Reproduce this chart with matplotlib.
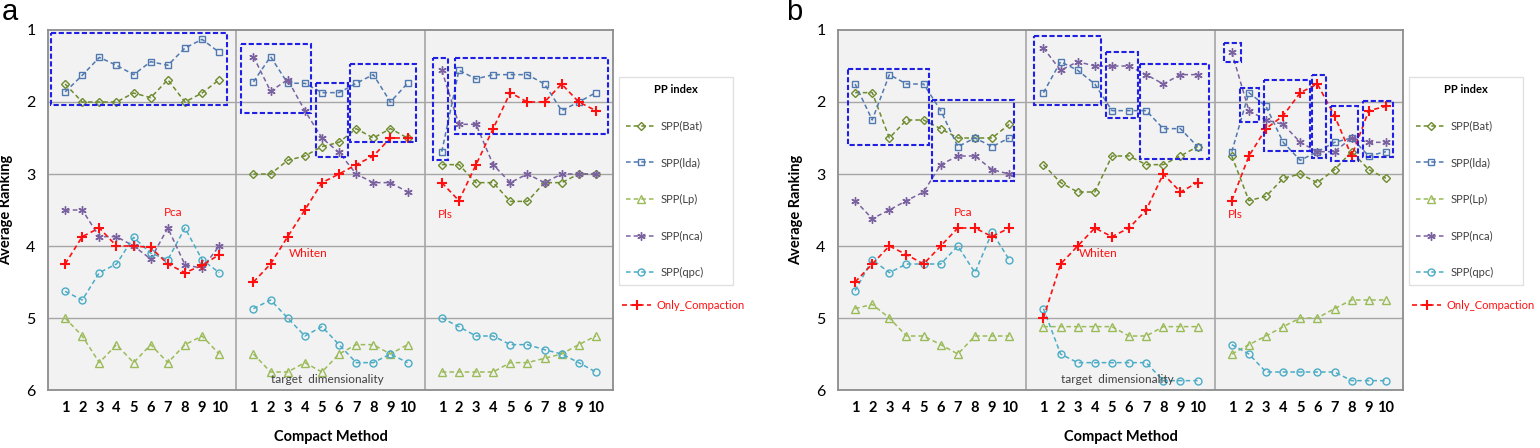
import matplotlib
matplotlib.use('Agg')
import matplotlib.pyplot as plt
from matplotlib.patches import Rectangle

# x 轴：三组方法，每组 1..10
groups = 3
dims = list(range(1, 11))
tick_labels = [str(d) for d in dims] * groups

series_names = ['SPP(Bat)', 'SPP(lda)', 'SPP(Lp)', 'SPP(nca)', 'SPP(qpc)']

# panel a
a_bat = [1.75, 2.0, 2.0, 2.0, 1.875, 1.94, 1.69, 2.0, 1.875, 1.69,
         3.0, 3.0, 2.81, 2.75, 2.62, 2.56, 2.37, 2.5, 2.37, 2.5,
         2.87, 2.87, 3.12, 3.12, 3.38, 3.38, 3.12, 3.12, 3.0, 3.0]
a_ida = [1.86, 1.63, 1.38, 1.49, 1.62, 1.44, 1.49, 1.25, 1.13, 1.31,
         1.72, 1.37, 1.74, 1.74, 1.87, 1.87, 1.74, 1.62, 2.0, 1.74,
         2.69, 1.56, 1.68, 1.62, 1.62, 1.62, 1.75, 2.12, 2.0, 1.87]
a_lp = [5.0, 5.25, 5.62, 5.37, 5.62, 5.37, 5.62, 5.37, 5.25, 5.5,
        5.5, 5.75, 5.75, 5.62, 5.75, 5.5, 5.37, 5.37, 5.5, 5.37,
        5.75, 5.75, 5.75, 5.75, 5.62, 5.62, 5.56, 5.5, 5.37, 5.25]
a_nca = [3.5, 3.5, 3.87, 3.87, 4.0, 4.18, 3.75, 4.26, 4.31, 4.0,
         1.37, 1.85, 1.69, 2.12, 2.5, 2.7, 3.0, 3.12, 3.12, 3.25,
         1.56, 2.31, 2.31, 2.87, 3.12, 3.0, 3.12, 3.0, 3.0, 3.0]
a_qpc = [4.63, 4.75, 4.37, 4.25, 3.88, 4.1, 4.19, 3.75, 4.19, 4.37,
         4.87, 4.75, 5.0, 5.25, 5.12, 5.37, 5.62, 5.62, 5.5, 5.62,
         5.0, 5.12, 5.25, 5.25, 5.37, 5.37, 5.44, 5.5, 5.62, 5.75]
a_only = [4.25, 3.87, 3.75, 4.0, 4.0, 4.02, 4.25, 4.37, 4.27, 4.12,
          4.5, 4.25, 3.87, 3.5, 3.12, 3.0, 2.87, 2.75, 2.5, 2.5,
          3.12, 3.37, 2.87, 2.37, 1.87, 2.0, 2.0, 1.75, 2.0, 2.12]

# panel b
b_bat = [1.87, 1.87, 2.5, 2.25, 2.25, 2.37, 2.5, 2.5, 2.5, 2.31,
         2.87, 3.12, 3.25, 3.25, 2.75, 2.75, 2.87, 2.87, 2.75, 2.62,
         2.75, 3.37, 3.31, 3.06, 3.0, 3.12, 2.94, 2.69, 2.94, 3.06]
b_ida = [1.75, 2.25, 1.62, 1.75, 1.75, 2.12, 2.62, 2.5, 2.62, 2.5,
         1.87, 1.44, 1.56, 1.75, 2.12, 2.12, 2.12, 2.37, 2.37, 2.62,
         2.69, 1.87, 2.06, 2.56, 2.81, 2.69, 2.56, 2.5, 2.75, 2.69]
b_lp = [4.87, 4.81, 5.0, 5.25, 5.25, 5.37, 5.5, 5.25, 5.25, 5.25,
        5.12, 5.12, 5.12, 5.12, 5.12, 5.25, 5.25, 5.12, 5.12, 5.12,
        5.5, 5.37, 5.25, 5.12, 5.0, 5.0, 4.87, 4.75, 4.75, 4.75]
b_nca = [3.37, 3.62, 3.5, 3.37, 3.25, 2.87, 2.75, 2.75, 2.94, 3.0,
         1.25, 1.56, 1.44, 1.5, 1.5, 1.5, 1.62, 1.75, 1.62, 1.62,
         1.31, 2.12, 2.25, 2.31, 2.56, 2.69, 2.69, 2.5, 2.56, 2.56]
b_qpc = [4.62, 4.19, 4.37, 4.25, 4.25, 4.25, 4.0, 4.37, 3.81, 4.19,
         4.87, 5.5, 5.62, 5.62, 5.62, 5.62, 5.62, 5.87, 5.87, 5.87,
         5.37, 5.5, 5.75, 5.75, 5.75, 5.75, 5.75, 5.87, 5.87, 5.87]
b_only = [4.5, 4.25, 4.0, 4.12, 4.25, 4.0, 3.75, 3.75, 3.87, 3.75,
          5.0, 4.25, 4.0, 3.75, 3.87, 3.75, 3.5, 3.0, 3.25, 3.12,
          3.37, 2.75, 2.37, 2.19, 1.87, 1.75, 2.19, 2.75, 2.12, 2.06]

# 组名注释 (Pca / Whiten / Pls)
method_names = ['Pca', 'Whiten', 'Pls']

# 蓝色虚线框 (x0, x1, y0, y1)
a_boxes = [(0.2, 10.45, 1.04, 2.04), (11.27, 15.36, 1.19, 2.15), (15.65, 17.52, 1.74, 2.76),
           (17.64, 21.5, 1.47, 2.56), (22.5, 23.36, 1.39, 2.81), (23.8, 32.7, 1.39, 2.44)]
b_boxes = [(0.58, 5.3, 1.54, 2.6), (5.5, 10.3, 1.97, 3.1), (11.45, 15.36, 1.08, 2.04),
           (15.65, 17.52, 1.3, 2.22), (17.64, 21.67, 1.47, 2.79), (22.55, 23.54, 1.18, 1.44),
           (23.48, 24.6, 1.8, 2.28), (24.9, 27.57, 1.69, 2.68), (27.7, 28.5, 1.62, 2.78),
           (28.8, 30.4, 2.05, 2.82), (30.67, 32.4, 1.99, 2.77)]

colors = ['#6E8B2E', '#4F79B0', '#9BBB59', '#7A62A0', '#4BACC6']
markers = ['D', 's', '^', (6, 2, 0), 'o']
msizes = [4.5, 5, 5.5, 6, 5]
red = '#FF1010'

plt.rcParams['font.family'] = ['Lato', 'DejaVu Sans']

fig = plt.figure(figsize=(15.4, 4.48), dpi=100)

xs = [g * 11 + d for g in range(groups) for d in dims]


def draw_panel(left, series, only, boxes, letter, letter_x):
    ax = fig.add_axes([left, 1 - 390 / 448, 565 / 1540, 360 / 448])
    ax.set_facecolor('#F2F2F2')
    ax.set_xlim(0, 33)
    ax.set_ylim(6, 1)
    ax.set_yticks([1, 2, 3, 4, 5, 6])
    for yv in [2, 3, 4, 5]:
        ax.axhline(yv, color='#A6A6A6', lw=1, zorder=1)
    for xv in [11, 22]:
        ax.axvline(xv, color='#A6A6A6', lw=1.2, zorder=1)
    for s in ax.spines.values():
        s.set_color('#8C8C8C')
        s.set_linewidth(1.3)

    handles = []
    for k, vals in enumerate(series):
        for g in range(groups):
            sl = slice(g * 10, g * 10 + 10)
            ln, = ax.plot(xs[sl], vals[sl], ls=(0, (3, 2)), lw=1.1, color=colors[k],
                          marker=markers[k], ms=msizes[k], mfc='none', mec=colors[k],
                          mew=1.0, zorder=3)
        handles.append(ln)
    for g in range(groups):
        sl = slice(g * 10, g * 10 + 10)
        oh, = ax.plot(xs[sl], only[sl], ls=(0, (3, 2)), lw=1.2, color=red,
                      marker='+', ms=7, mew=1.5, zorder=4)

    for b in boxes:
        ax.add_patch(Rectangle((b[0], b[2]), b[1] - b[0], b[3] - b[2], fill=False,
                               ec='#1F1FE6', lw=1.5, ls=(0, (2.5, 1.2)), zorder=5))

    ax.text(7.3, 3.53, method_names[0], color=red, fontsize=8.5, ha='center', va='center')
    ax.text(15.2, 4.1, method_names[1], color=red, fontsize=8.5, ha='center', va='center')
    ax.text(23.2, 3.56, method_names[2], color=red, fontsize=8.5, ha='center', va='center')
    ax.text(16.3, 5.85, 'target  dimensionality', color='#404040', fontsize=8.5,
            ha='center', va='center', zorder=6)

    ax.set_xticks(xs)
    ax.set_xticklabels(tick_labels, fontweight='bold', fontsize=10.5)
    ax.tick_params(axis='x', length=0, pad=8)
    ax.tick_params(axis='y', length=0, pad=9, labelsize=11.5)
    ax.set_xlabel('Compact Method', fontweight='bold', fontsize=10.5)
    ax.xaxis.set_label_coords(0.5, -0.11)
    ax.set_ylabel('Average Ranking', fontweight='bold', fontsize=10.5)
    ax.yaxis.set_label_coords(-0.062, 0.5)

    lx = left + 571 / 1540
    leg = fig.legend(handles, series_names, loc='upper left',
                     bbox_to_anchor=(lx, 1 - 77 / 448, 114 / 1540, 0.0), mode='expand',
                     title='PP index', title_fontproperties={'weight': 'bold', 'size': 8},
                     fontsize=8, labelspacing=2.3, handlelength=2.6, handletextpad=0.5,
                     borderpad=0.65, borderaxespad=0, frameon=True, fancybox=False,
                     edgecolor='#D9D9D9', numpoints=1)
    leg.get_frame().set_linewidth(1.0)
    for t in leg.get_texts():
        t.set_color('#404040')
    fig.legend([oh], ['Only_Compaction'], loc='upper left',
               bbox_to_anchor=(lx, 1 - 297 / 448), fontsize=8, frameon=False,
               handlelength=2.6, handletextpad=0.5, borderpad=0.3,
               borderaxespad=0, labelcolor=red, numpoints=1)

    fig.text(letter_x, 1 - 20 / 448, letter, fontsize=21, family='Liberation Sans',
             ha='left', va='baseline')
    return ax


draw_panel(48 / 1540, [a_bat, a_ida, a_lp, a_nca, a_qpc], a_only, a_boxes, 'a', 0.001)
draw_panel(838 / 1540, [b_bat, b_ida, b_lp, b_nca, b_qpc], b_only, b_boxes, 'b', 786 / 1540)

fig.savefig('out.png', dpi=100)
